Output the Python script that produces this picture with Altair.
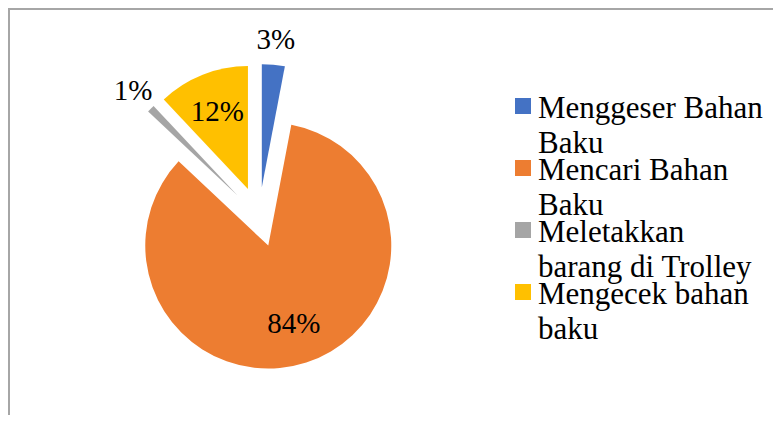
import altair as alt
import pandas as pd

# ---- data ----
categories = ["Menggeser Bahan Baku", "Mencari Bahan Baku",
              "Meletakkan barang di Trolley", "Mengecek bahan baku"]
legend_labels = ["Menggeser Bahan\nBaku", "Mencari Bahan\nBaku",
                 "Meletakkan\nbarang di Trolley", "Mengecek bahan\nbaku"]
values = [3, 84, 1, 12]
colors = ["#4472C4", "#ED7D31", "#A5A5A5", "#FFC000"]

# ---- layout constants ----
W, H = 765, 407
CX, CY = 251, 209       # pie centre
R = 123                 # pie radius
EXPLODE = 30            # slice explosion distance
R_IN, R_OUT = 83, 148   # label distances
FONT = "Liberation Serif"
FRAME = "#A6A6A6"

df = pd.DataFrame({
    "cat": categories,
    "legend": legend_labels,
    "val": values,
    "color": colors,
    "order": list(range(len(categories))),
})

base = (
    alt.Chart(df)
    .transform_joinaggregate(total="sum(val)")
    .transform_window(cum="sum(val)", sort=[alt.SortField("order")], frame=[None, 0])
    .transform_calculate(t0="(datum.cum - datum.val) / datum.total * 2 * PI")
    .transform_calculate(t1="datum.cum / datum.total * 2 * PI")
    .transform_calculate(mid="(datum.t0 + datum.t1) / 2")
    .transform_calculate(px=f"{CX} + {EXPLODE} * sin(datum.mid)")
    .transform_calculate(py=f"{CY} - {EXPLODE} * cos(datum.mid)")
    .transform_calculate(lr=f"datum.val / datum.total < 0.05 ? {R_OUT} : {R_IN}")
    .transform_calculate(lx="datum.px + datum.lr * sin(datum.mid)")
    .transform_calculate(ly="datum.py - datum.lr * cos(datum.mid)")
    .transform_calculate(pct="format(datum.val / datum.total, '.0%')")
)

arcs = base.mark_arc(radius=R).encode(
    theta=alt.Theta("t0:Q", scale=None),
    theta2="t1:Q",
    x=alt.X("px:Q", scale=None, axis=None),
    y=alt.Y("py:Q", scale=None, axis=None),
    color=alt.Color("color:N", scale=None, legend=None),
)

labels = base.mark_text(font=FONT, fontSize=29, align="center", baseline="middle",
                        color="black").encode(
    x=alt.X("lx:Q", scale=None, axis=None),
    y=alt.Y("ly:Q", scale=None, axis=None),
    text="pct:N",
)

leg_base = alt.Chart(df).transform_calculate(
    sy="98 + datum.order * 62"
).transform_calculate(
    ty="110 + datum.order * 62"
)

leg_sq = leg_base.mark_square(size=256, opacity=1).encode(
    x=alt.value(515),
    y=alt.Y("sy:Q", scale=None, axis=None),
    color=alt.Color("color:N", scale=None, legend=None),
)

leg_txt = leg_base.mark_text(font=FONT, fontSize=31, align="left", baseline="alphabetic",
                             lineBreak="\n", lineHeight=35, color="black").encode(
    x=alt.value(530),
    y=alt.Y("ty:Q", scale=None, axis=None),
    text="legend:N",
)

frame_top = alt.Chart(df).mark_rule(color=FRAME, strokeWidth=2).encode(
    x=alt.value(0), x2=alt.value(W), y=alt.value(1)
)
frame_left = alt.Chart(df).mark_rule(color=FRAME, strokeWidth=2).encode(
    x=alt.value(1), y=alt.value(0), y2=alt.value(H)
)

chart = alt.layer(frame_top, frame_left, arcs, labels, leg_sq, leg_txt).properties(
    width=W, height=H, padding=0, autosize=alt.AutoSizeParams(type="none"),
    background="white",
).configure_view(stroke=None)

chart.save("out.html", embed_options={"renderer": "svg", "actions": False})
